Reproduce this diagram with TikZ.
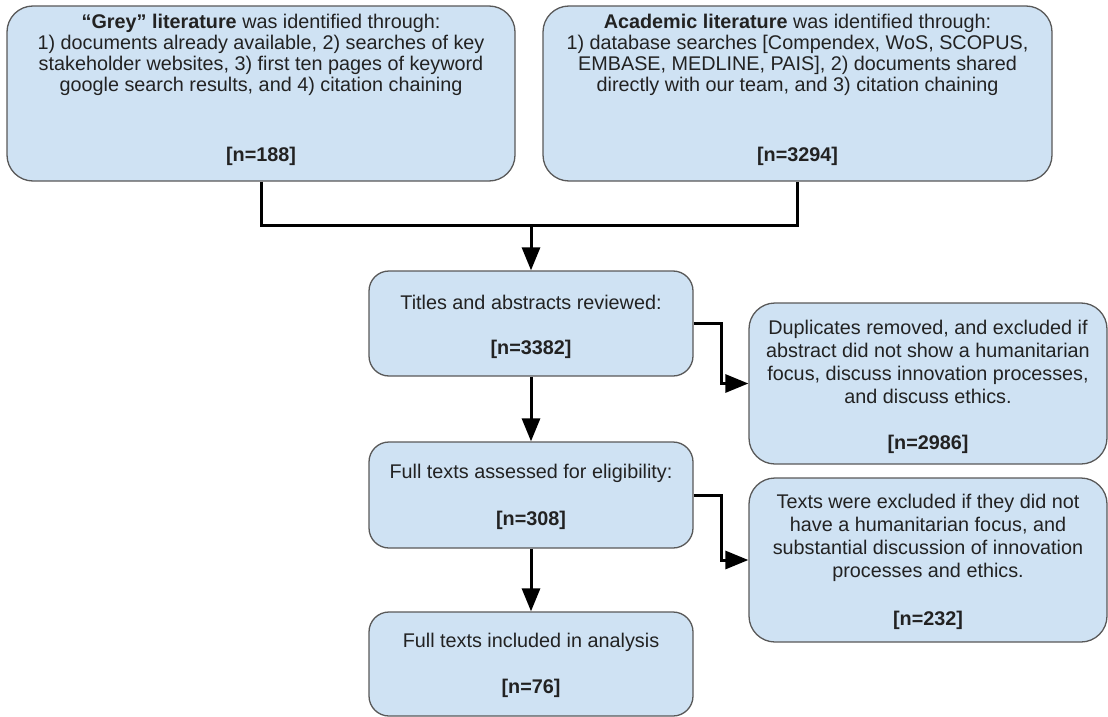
\documentclass[tikz,border=0pt]{standalone}
\usepackage{fontspec}
\setmainfont{Liberation Sans}
\usetikzlibrary{arrows.meta}
\definecolor{boxfill}{HTML}{CFE2F3}
\definecolor{boxline}{HTML}{595959}
\definecolor{ink}{HTML}{222222}
\tikzset{
  box/.style={draw=boxline, line width=1.3pt, fill=boxfill, rounded corners=26pt,
    inner sep=0pt},
  txt/.style={align=center, inner sep=0pt, text=ink,
    font=\fontsize{19.8}{21}\selectfont},
  txtwide/.style={txt, font=\fontsize{19.8}{23}\selectfont},
  count/.style={inner sep=0pt, text=ink, font=\fontsize{19.8}{23}\selectfont\bfseries},
  conn/.style={line width=3pt, black},
  arr/.style={conn, -{Triangle[length=23pt,width=18pt]}},
}
\begin{document}
\begin{tikzpicture}[x=1pt,y=-1pt]
\useasboundingbox (0,0) rectangle (1108,717);

% source boxes
\node[box, minimum width=508pt, minimum height=175pt] (grey) at (261,93.5) {};
\node[txt] (greyT) at (261,54.5) {\textbf{“Grey” literature} was identified through:\\
1) documents already available, 2) searches of key\\
stakeholder websites, 3) first ten pages of keyword\\
google search results, and 4) citation chaining};
\node[count] (greyN) at (261,156) {[n=188]};

\node[box, minimum width=509pt, minimum height=175pt] (acad) at (797.5,93.5) {};
\node[txt] (acadT) at (797.5,54.5) {\textbf{Academic literature} was identified through:\\
1) database searches [Compendex, WoS, SCOPUS,\\
EMBASE, MEDLINE, PAIS], 2) documents shared\\
directly with our team, and 3) citation chaining};
\node[count] (acadN) at (797.5,156) {[n=3294]};

% main column
\node[box, rounded corners=20pt, minimum width=324pt, minimum height=105pt] (titles) at (531,323.5) {};
\node[txt] (titlesT) at (531,302) {Titles and abstracts reviewed:};
\node[count] (titlesN) at (531,349) {[n=3382]};

\node[box, rounded corners=20pt, minimum width=324pt, minimum height=106pt] (full) at (531,495) {};
\node[txt] (fullT) at (531,473) {Full texts assessed for eligibility:};
\node[count] (fullN) at (531,520) {[n=308]};

\node[box, rounded corners=20pt, minimum width=324pt, minimum height=104pt] (incl) at (531,664) {};
\node[txt] (inclT) at (531,642) {Full texts included in analysis};
\node[count] (inclN) at (531,688) {[n=76]};

% exclusion boxes
\node[box, minimum width=358pt, minimum height=161pt] (dup) at (928,383.5) {};
\node[txtwide] (dupT) at (928,361.5) {Duplicates removed, and excluded if\\
abstract did not show a humanitarian\\
focus, discuss innovation processes,\\
and discuss ethics.};
\node[count] (dupN) at (928,444) {[n=2986]};

\node[box, minimum width=358pt, minimum height=164pt] (excl) at (928,560) {};
\node[txtwide] (exclT) at (928,538) {Texts were excluded if they did not\\
have a humanitarian focus, and\\
substantial discussion of innovation\\
processes and ethics.};
\node[count] (exclN) at (928,620) {[n=232]};

% connectors
\coordinate (join) at (531,225.5);
\draw[conn] (grey.south) |- (join) -| (acad.south);
\draw[arr] (join) -- (titles.north);
\draw[arr] (titles.south) -- (full.north);
\draw[arr] (full.south) -- (incl.north);
\draw[arr] (titles.east) -- ++(28,0) |- (dup.west);
\draw[arr] (full.east) -- ++(28,0) |- (excl.west);
\end{tikzpicture}
\end{document}
